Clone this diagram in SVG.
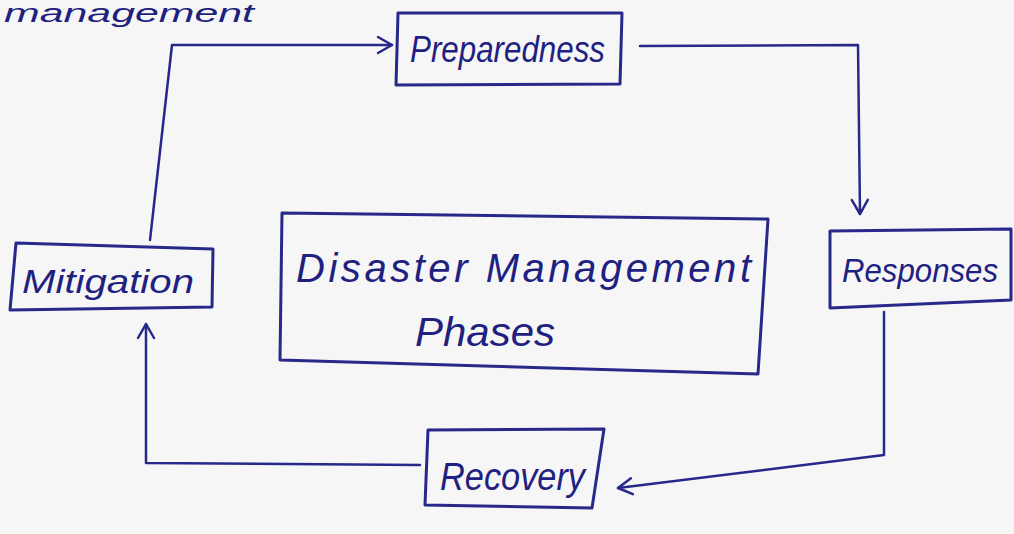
<svg xmlns="http://www.w3.org/2000/svg" width="1014" height="534" viewBox="0 0 1014 534">
<style>
.box{fill:none;stroke:#27288a;stroke-width:3;stroke-linejoin:round}
.ln{fill:none;stroke:#27288a;stroke-width:2.5;stroke-linecap:round;stroke-linejoin:round}
.t{font-family:"Liberation Sans",Arial,sans-serif;font-style:italic;fill:#1f2180}
</style>
<defs>
<marker id="ah" viewBox="0 0 20 20" refX="18" refY="10" markerWidth="20" markerHeight="20" markerUnits="userSpaceOnUse" orient="auto">
<path d="M4 2 L18 10 L4 18" fill="none" stroke="#27288a" stroke-width="2.5" stroke-linecap="round" stroke-linejoin="round"/>
</marker>
</defs>
<rect width="1014" height="534" fill="#f6f6f6"/>
<text class="t" x="4" y="22" font-size="26" textLength="250" lengthAdjust="spacingAndGlyphs">management</text>
<g id="connectors">
<path class="ln" d="M150 240 L172 45 L392 45" marker-end="url(#ah)"/>
<path class="ln" d="M640 46 L858 45 L860 214" marker-end="url(#ah)"/>
<path class="ln" d="M884 312 L884 455 L618 488" marker-end="url(#ah)"/>
<path class="ln" d="M420 465 L146 463 L146 324" marker-end="url(#ah)"/>
</g>
<g id="preparedness">
<path class="box" d="M398 13 L622 13 L620 84 L396 85 Z"/>
<text class="t" x="410" y="62" font-size="36" textLength="195" lengthAdjust="spacingAndGlyphs">Preparedness</text>
</g>
<g id="mitigation">
<path class="box" d="M16 243 L213 249 L212 307 L10 310 Z"/>
<text class="t" x="22" y="293" font-size="34" textLength="172" lengthAdjust="spacingAndGlyphs">Mitigation</text>
</g>
<g id="response">
<path class="box" d="M830 231 L1011 229 L1011 300 L830 308 Z"/>
<text class="t" x="842" y="282" font-size="34" textLength="156" lengthAdjust="spacingAndGlyphs">Responses</text>
</g>
<g id="recovery">
<path class="box" d="M428 430 L604 429 L592 508 L425 505 Z"/>
<text class="t" x="440" y="490" font-size="38" textLength="145" lengthAdjust="spacingAndGlyphs">Recovery</text>
</g>
<g id="center">
<path class="box" d="M282 213 L768 219 L758 374 L280 360 Z"/>
<text class="t" x="296" y="282" font-size="40" textLength="455" lengthAdjust="spacing">Disaster  Management</text>
<text class="t" x="415" y="346" font-size="40" textLength="140" lengthAdjust="spacingAndGlyphs">Phases</text>
</g>
</svg>
